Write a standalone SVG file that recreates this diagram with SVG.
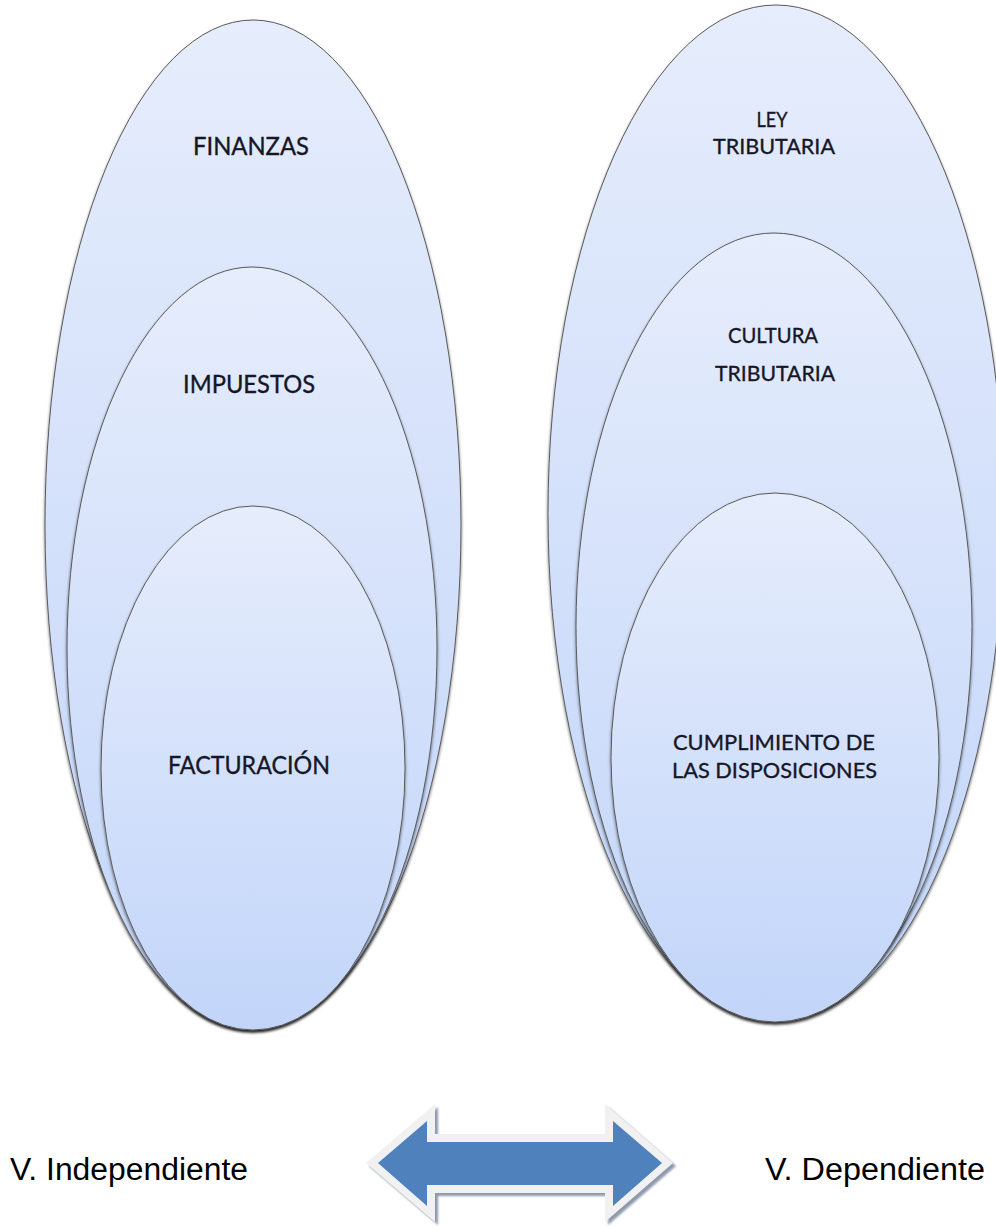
<svg xmlns="http://www.w3.org/2000/svg" width="996" height="1227" viewBox="0 0 996 1227">
  <defs>
    <linearGradient id="ellGrad" x1="0" y1="0" x2="0" y2="1">
      <stop offset="0" stop-color="#e6edfc"/>
      <stop offset="1" stop-color="#c2d5f9"/>
    </linearGradient>
    <filter id="ellShadow" x="-10%" y="-10%" width="120%" height="120%">
      <feDropShadow dx="0" dy="2" stdDeviation="1.6" flood-color="#000" flood-opacity="0.55"/>
    </filter>
    <filter id="arrShadow" x="-10%" y="-10%" width="120%" height="130%">
      <feGaussianBlur stdDeviation="1"/>
    </filter>
  </defs>
  <style>
    .ell { fill: url(#ellGrad); stroke: #5a5a5a; stroke-width: 1; filter: url(#ellShadow); }
    .lbl { font-family: Lato, "Open Sans", "Liberation Sans", sans-serif; fill: #161626; stroke: #161626; stroke-width: 0.35; text-anchor: middle; }
    .big { font-size: 25px; }
    .sm { font-size: 22px; }
    .var { font-family: "Liberation Sans", Arial, sans-serif; font-size: 31px; fill: #000; }
  </style>
  <rect width="996" height="1227" fill="#ffffff"/>

  <!-- Left group -->
  <g id="finanzas">
    <ellipse class="ell" cx="253" cy="525" rx="208" ry="505"/>
    <text class="lbl big" x="251" y="155" textLength="116" lengthAdjust="spacingAndGlyphs">FINANZAS</text>
  </g>
  <g id="impuestos">
    <ellipse class="ell" cx="252" cy="648" rx="185" ry="381"/>
    <text class="lbl big" x="249" y="393" textLength="132" lengthAdjust="spacingAndGlyphs">IMPUESTOS</text>
  </g>
  <g id="facturacion">
    <ellipse class="ell" cx="253" cy="768" rx="152" ry="262"/>
    <text class="lbl big" x="249" y="774" textLength="162" lengthAdjust="spacingAndGlyphs">FACTURACIÓN</text>
  </g>

  <!-- Right group -->
  <g id="ley-tributaria">
    <ellipse class="ell" cx="776" cy="513.5" rx="228" ry="508.5"/>
    <text class="lbl sm" x="772" y="127" textLength="31" lengthAdjust="spacingAndGlyphs">LEY</text>
    <text class="lbl sm" x="774" y="154" textLength="122" lengthAdjust="spacingAndGlyphs">TRIBUTARIA</text>
  </g>
  <g id="cultura-tributaria">
    <ellipse class="ell" cx="774" cy="626.5" rx="198" ry="393.5"/>
    <text class="lbl sm" x="773" y="343" textLength="90" lengthAdjust="spacingAndGlyphs">CULTURA</text>
    <text class="lbl sm" x="775" y="381" textLength="120" lengthAdjust="spacingAndGlyphs">TRIBUTARIA</text>
  </g>
  <g id="cumplimiento">
    <ellipse class="ell" cx="775" cy="757.5" rx="164" ry="264.5"/>
    <text class="lbl sm" x="774" y="750" textLength="202" lengthAdjust="spacingAndGlyphs">CUMPLIMIENTO DE</text>
    <text class="lbl sm" x="774.5" y="778" textLength="205" lengthAdjust="spacingAndGlyphs">LAS DISPOSICIONES</text>
  </g>

  <!-- Variable labels -->
  <g id="v-independiente">
    <text class="var" x="10" y="1180" textLength="238" lengthAdjust="spacingAndGlyphs">V. Independiente</text>
  </g>
  <g id="v-dependiente">
    <text class="var" x="765" y="1180" textLength="220" lengthAdjust="spacingAndGlyphs">V. Dependiente</text>
  </g>

  <!-- Connectors: double arrow -->
  <g id="connectors">
    <polygon points="366,1163 435,1104 435,1134 605,1134 605,1104 673,1163 605,1222 605,1193 435,1193 435,1222" fill="#8e99ad" transform="translate(3,3)" filter="url(#arrShadow)"/>
    <polygon points="366,1163 435,1104 435,1134 605,1134 605,1104 673,1163 605,1222 605,1193 435,1193 435,1222" fill="#f1f1f1"/>
    <polygon points="378,1163 427,1121 427,1142 613,1142 613,1121 662,1163 613,1206 613,1185 427,1185 427,1206" fill="#4f81bd"/>
  </g>
</svg>
